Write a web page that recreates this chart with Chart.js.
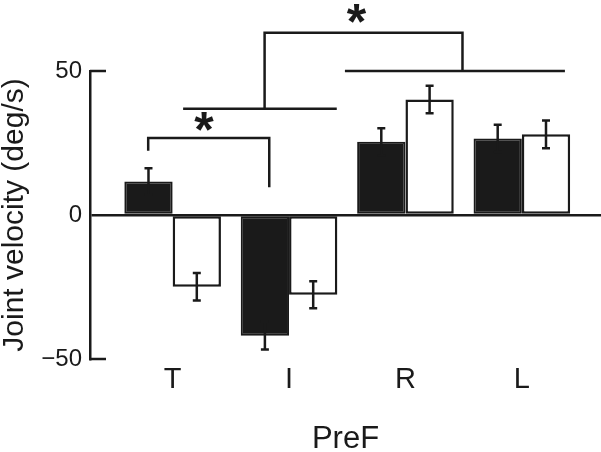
<!DOCTYPE html>
<html>
<head>
<meta charset="utf-8">
<script src="https://cdn.jsdelivr.net/npm/chart.js@4.4.0/dist/chart.umd.min.js"></script>
<style>
  html, body { margin: 0; padding: 0; background: #fff; }
</style>
</head>
<body>
<canvas id="myChart" width="601" height="452"></canvas>
<script>
var categories = ['T', 'I', 'R', 'L']
var catPos = [1, 2, 3, 4]
var filledValues = [11.6, -41.9, 25.4, 26.6]
var filledErrors = [4.6, 4.8, 4.7, 4.7]
var openValues = [-24.9, -27.7, 40.1, 28.0]
var openErrors = [4.8, 4.7, 4.8, 4.8]
var yTicks = [-50, 0, 50]

// significance brackets, [x, y] in data units
var bracketLines = [
  [[0.79, 22.3], [0.79, 26.7], [1.83, 26.7], [1.83, 9.6]],
  [[1.09, 36.9], [2.41, 36.9]],
  [[2.48, 50.0], [4.37, 50.0]],
  [[1.79, 36.9], [1.79, 63.3], [3.49, 63.3], [3.49, 50.0]]
]
var stars = [[1.27, 32.3], [2.58, 70.1]]

var ink = '#1a1a1a'

function toPoints(vals){
  let out = []
  for (i in vals) out.push({x: catPos[i], y: vals[i]})
  return out
}

var errorBars = {
  id: 'errorBars',
  afterDatasetsDraw(chart){
    let ctx = chart.ctx, y = chart.scales.y
    let errs = [filledErrors, openErrors]
    ctx.save()
    ctx.strokeStyle = ink
    ctx.lineWidth = 2.5
    for (let d = 0; d < 2; d++){
      let meta = chart.getDatasetMeta(d)
      meta.data.forEach(function(bar, i){
        let v = chart.data.datasets[d].data[i].y
        let top = y.getPixelForValue(v + errs[d][i])
        let bot = y.getPixelForValue(v - errs[d][i])
        ctx.beginPath()
        ctx.moveTo(bar.x, top); ctx.lineTo(bar.x, bot)
        ctx.moveTo(bar.x - 4, top); ctx.lineTo(bar.x + 4, top)
        ctx.moveTo(bar.x - 4, bot); ctx.lineTo(bar.x + 4, bot)
        ctx.stroke()
      })
    }
    ctx.restore()
  }
}

var extras = {
  id: 'extras',
  afterDraw(chart){
    let ctx = chart.ctx, xs = chart.scales.x, ys = chart.scales.y
    ctx.save()
    ctx.strokeStyle = ink
    ctx.lineWidth = 2.5
    // inward tick marks
    yTicks.forEach(function(t){
      if (t === 0) return
      let py = ys.getPixelForValue(t)
      ctx.beginPath()
      ctx.moveTo(chart.chartArea.left, py)
      ctx.lineTo(chart.chartArea.left + 16, py)
      ctx.stroke()
    })
    bracketLines.forEach(function(line){
      ctx.beginPath()
      line.forEach(function(p, k){
        let px = xs.getPixelForValue(p[0]), py = ys.getPixelForValue(p[1])
        if (k === 0) ctx.moveTo(px, py)
        else ctx.lineTo(px, py)
      })
      ctx.stroke()
    })
    ctx.fillStyle = ink
    ctx.font = 'bold 50px "Liberation Sans", Arial, sans-serif'
    ctx.textAlign = 'center'
    ctx.textBaseline = 'alphabetic'
    stars.forEach(function(s){
      let m = ctx.measureText('*')
      let cx = xs.getPixelForValue(s[0]), cy = ys.getPixelForValue(s[1])
      let base = cy + (m.actualBoundingBoxAscent - m.actualBoundingBoxDescent) / 2
      ctx.fillText('*', cx, base)
    })
    ctx.restore()
  }
}

var myChart = new Chart(document.getElementById('myChart'), {
  type: 'bar',
  data: {
    datasets: [
      {
        label: 'filled',
        data: toPoints(filledValues),
        backgroundColor: ink,
        borderColor: ink,
        borderWidth: 2,
        borderSkipped: false
      },
      {
        label: 'open',
        data: toPoints(openValues),
        backgroundColor: '#ffffff',
        borderColor: ink,
        borderWidth: 2.5,
        borderSkipped: false
      }
    ]
  },
  options: {
    responsive: false,
    animation: false,
    devicePixelRatio: 1,
    categoryPercentage: 0.83,
    barPercentage: 1.0,
    layout: { padding: { top: 71, right: 0, bottom: 0, left: 0 } },
    plugins: { legend: { display: false }, tooltip: { enabled: false } },
    scales: {
      x: {
        type: 'linear',
        offset: false,
        min: 0.29,
        max: 4.68,
        afterBuildTicks: function(scale){ scale.ticks = catPos.map(function(v){ return {value: v} }) },
        afterFit: function(scale){ scale.height = 93 },
        grid: { display: false, drawTicks: false, offset: false },
        border: { display: false },
        ticks: {
          color: ink,
          padding: 4,
          maxRotation: 0,
          font: { family: '"Liberation Sans", Arial, sans-serif', size: 29 },
          callback: function(v){ return categories[catPos.indexOf(v)] }
        },
        title: {
          display: true,
          text: 'PreF',
          color: ink,
          padding: { top: 0, bottom: 0 },
          font: { family: '"Liberation Sans", Arial, sans-serif', size: 31, lineHeight: 0.8 }
        }
      },
      y: {
        min: -50,
        max: 50,
        afterBuildTicks: function(scale){ scale.ticks = yTicks.map(function(v){ return {value: v} }) },
        afterFit: function(scale){ scale.width = 90 },
        grid: {
          drawTicks: false,
          lineWidth: 2.5,
          color: function(c){ return c.tick && c.tick.value === 0 ? ink : 'rgba(0,0,0,0)' }
        },
        border: { display: true, color: ink, width: 2.5 },
        ticks: {
          color: ink,
          padding: 8,
          font: { family: '"Liberation Sans", Arial, sans-serif', size: 24 },
          callback: function(v){ return v < 0 ? '\u2212' + Math.abs(v) : '' + v }
        },
        title: {
          display: true,
          text: 'Joint velocity (deg/s)',
          color: ink,
          padding: { top: 0, bottom: 0 },
          font: { family: '"Liberation Sans", Arial, sans-serif', size: 30, lineHeight: 1 }
        }
      }
    }
  },
  plugins: [errorBars, extras]
})
</script>
</body>
</html>
